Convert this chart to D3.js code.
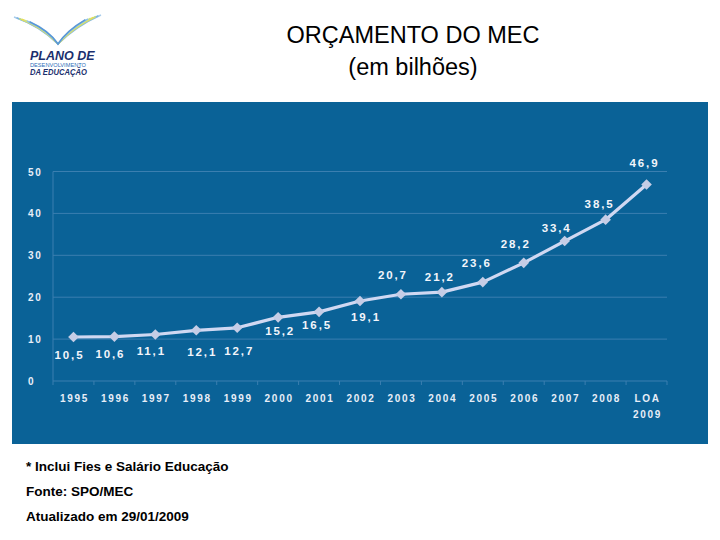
<!DOCTYPE html>
<html><head><meta charset="utf-8">
<script src="https://cdn.jsdelivr.net/npm/d3@7"></script>
<style>body{margin:0;background:#fff}svg{display:block}</style>
</head><body>
<svg id="c" width="720" height="540"></svg>
<script>
// ---- data ----
const categories = ["1995","1996","1997","1998","1999","2000","2001","2002","2003","2004","2005","2006","2007","2008","LOA 2009"];
const values = [10.5,10.6,11.1,12.1,12.7,15.2,16.5,19.1,20.7,21.2,23.6,28.2,33.4,38.5,46.9];
const valueLabels = ["10,5","10,6","11,1","12,1","12,7","15,2","16,5","19,1","20,7","21,2","23,6","28,2","33,4","38,5","46,9"];
const yTicks = [0,10,20,30,40,50];
const titleLines = ["ORÇAMENTO DO MEC","(em bilhões)"];
const notes = ["* Inclui Fies e Salário Educação","Fonte: SPO/MEC","Atualizado em 29/01/2009"];

// ---- layout (label placement relative to point) ----
const labelDx = [-4,-4,-4,6,2,2,-2,6,-8,-2,-6,-8,-8,-6,-2];
const labelDy = [22,21,21,26,27,18,17,20,-15,-11,-15,-15,-9,-12,-17];

const svg = d3.select("#c");
const font = "'Liberation Sans', Arial, sans-serif";

// panel
svg.append("rect").attr("x",12).attr("y",102).attr("width",696).attr("height",342).attr("fill","#0a6297");

const x = d3.scaleBand().domain(categories).range([53,667]);
const y = d3.scaleLinear().domain([0,50]).range([381,171.5]);

// gridlines
svg.append("g").selectAll("line").data(yTicks).join("line")
  .attr("x1",53).attr("x2",667).attr("y1",d=>y(d)).attr("y2",d=>y(d))
  .attr("stroke","#3b7fb0").attr("stroke-width",1);
svg.append("line").attr("x1",53).attr("x2",53).attr("y1",y(50)).attr("y2",y(0)).attr("stroke","#3b7fb0");

// x axis ticks at band boundaries
const xAxis = svg.append("g").attr("transform",`translate(0,${y(0)})`);
xAxis.selectAll("line.t").data(categories.concat(["_end"])).join("line")
  .attr("x1",(d,i)=>53+i*x.step()).attr("x2",(d,i)=>53+i*x.step())
  .attr("y1",0).attr("y2",4).attr("stroke","#3b7fb0");

// x tick labels
const xl = svg.append("g");
categories.forEach((c)=>{
  const parts = c.split(" ");
  const t = xl.append("text").attr("x",x(c)+x.bandwidth()/2+1).attr("y",402)
    .attr("text-anchor","middle").attr("fill","#e8eef8").attr("font-family",font)
    .attr("font-weight","bold").attr("font-size",10).attr("letter-spacing",1.7);
  parts.forEach((p,j)=>t.append("tspan").attr("x",x(c)+x.bandwidth()/2+1).attr("dy",j?16:0).text(p));
});

// y tick labels
svg.append("g").selectAll("text").data(yTicks).join("text")
  .attr("x",28).attr("y",d=>y(d)+4).attr("fill","#e8eef8").attr("font-family",font)
  .attr("font-weight","bold").attr("font-size",10).attr("letter-spacing",1.7).text(d=>d);

// line
const cx = d=>x(d)+x.bandwidth()/2;
const line = d3.line().x((d,i)=>cx(categories[i])).y(d=>y(d));
svg.append("path").datum(values).attr("d",line).attr("fill","none")
  .attr("stroke","#d0d8f2").attr("stroke-width",3.2).attr("stroke-linejoin","round");
svg.append("g").selectAll("path").data(values).join("path")
  .attr("d",d3.symbol().type(d3.symbolDiamond2).size(72))
  .attr("transform",(d,i)=>`translate(${cx(categories[i])},${y(d)})`)
  .attr("fill","#c6cde6");

// value labels
svg.append("g").selectAll("text").data(values).join("text")
  .attr("x",(d,i)=>cx(categories[i])+labelDx[i]).attr("y",(d,i)=>y(d)+labelDy[i])
  .attr("text-anchor","middle").attr("fill","#f2f5fb").attr("font-family",font)
  .attr("font-weight","bold").attr("font-size",11.5).attr("letter-spacing",1.9)
  .text((d,i)=>valueLabels[i]);

// title
svg.append("g").selectAll("text").data(titleLines).join("text")
  .attr("x",413).attr("y",(d,i)=>43+i*32).attr("text-anchor","middle")
  .attr("font-family",font).attr("font-size",23.5).attr("fill","#000").text(d=>d);

// notes
svg.append("g").selectAll("text").data(notes).join("text")
  .attr("x",26).attr("y",(d,i)=>471+i*25).attr("font-family",font)
  .attr("font-weight","bold").attr("font-size",13.5).attr("fill","#000").text(d=>d);

// logo
const logo = svg.append("g");
const fanCols = ["#a9cdec","#7fb3e0","#c7df7a","#ecdc55","#c8e08a","#8fc2e8","#5a98d6"];
for(let k=0;k<7;k++){
  const o = k*2.6;
  logo.append("path").attr("d",`M${14+o},${17+o*0.3} Q${40+o*0.6},${26+o*0.3} ${58},${44} Q${76-o*0.6},${26+o*0.3} ${101-o},${15+o*0.3}`)
    .attr("fill","none").attr("stroke",fanCols[k]).attr("stroke-width",1.6);
}
logo.append("text").attr("x",30).attr("y",60).attr("font-family",font)
  .attr("font-weight","bold").attr("font-style","italic").attr("font-size",12.5).attr("fill","#1b2f6e").text("PLANO DE");
logo.append("text").attr("x",30).attr("y",66.5).attr("textLength",56).attr("lengthAdjust","spacingAndGlyphs").attr("font-family",font)
  .attr("font-size",6).attr("fill","#2a6db8").text("DESENVOLVIMENTO");
logo.append("text").attr("x",30).attr("y",74.5).attr("textLength",57).attr("lengthAdjust","spacingAndGlyphs").attr("font-family",font)
  .attr("font-weight","bold").attr("font-style","italic").attr("font-size",8.5).attr("fill","#1b2f6e").text("DA EDUCAÇÃO");
</script>
</body></html>
